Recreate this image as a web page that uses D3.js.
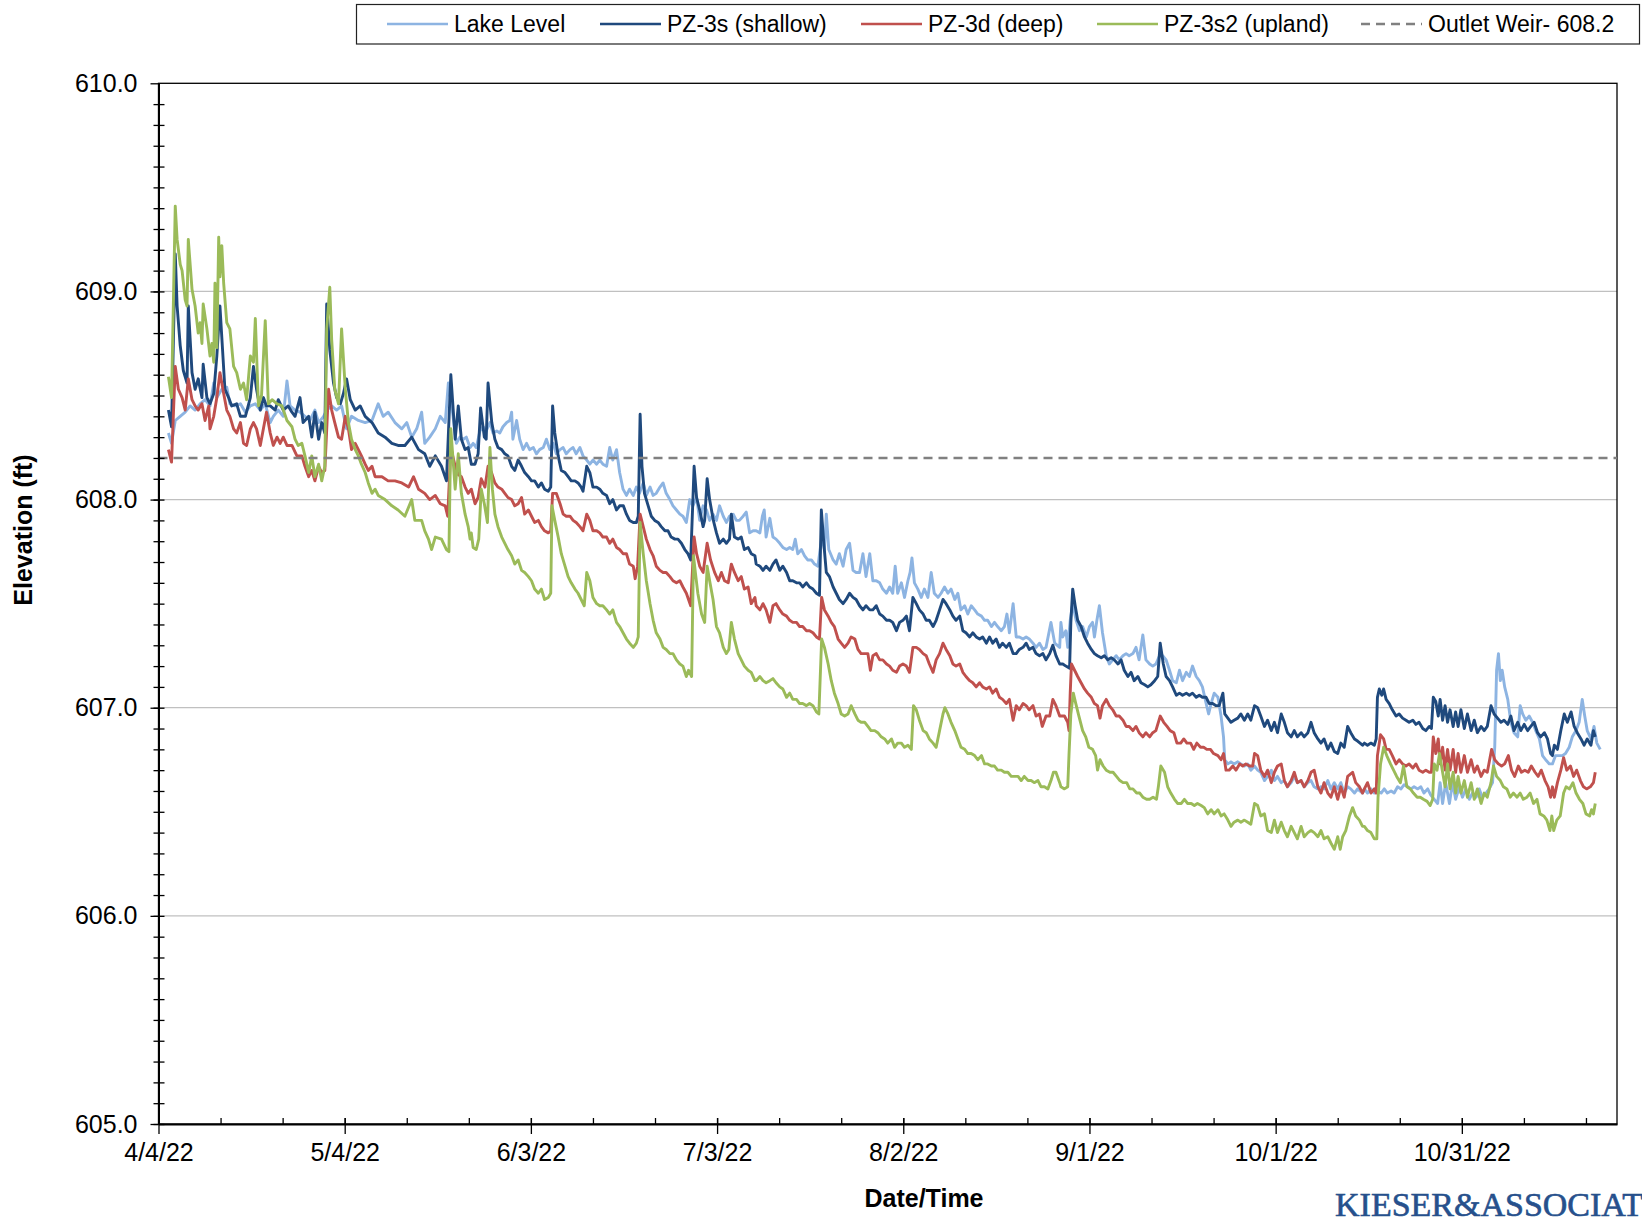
<!DOCTYPE html>
<html>
<head>
<meta charset="utf-8">
<script src="https://cdn.jsdelivr.net/npm/d3@7"></script>
<style>
  body { margin: 0; background: #fff; }
  svg text { font-family: "Liberation Sans", Arial, sans-serif; }
  svg text.logo { font-family: "Liberation Serif", "Times New Roman", serif; }
</style>
</head>
<body>
<svg id="chart" width="1642" height="1217"></svg>
<script>
// readings: [days after 4/4/22, elevation ft]
const lakeLevel = [
[1.6,608.32],[2.1,608.27],[2.7,608.38],[3.5,608.40],[4.3,608.42],[5.1,608.45],[5.9,608.43],[6.7,608.46],[7.5,608.48],[8.3,608.45],
[8.9,608.56],[9.4,608.49],[10.2,608.53],[11.0,608.54],[11.5,608.46],[12.3,608.45],[13.2,608.46],[14.0,608.42],[14.8,608.45],[15.6,608.46],
[16.4,608.43],[17.2,608.46],[18.0,608.37],[18.5,608.40],[19.3,608.43],[20.1,608.40],[20.7,608.57],[21.2,608.45],[22.0,608.43],[22.8,608.42],
[23.6,608.40],[24.4,608.38],[25.2,608.43],[25.8,608.37],[26.6,608.40],[27.1,608.43],[27.9,608.45],[28.7,608.43],[29.5,608.45],[30.3,608.34],
[31.1,608.40],[32.2,608.38],[33.3,608.37],[34.4,608.38],[35.4,608.46],[36.2,608.40],[37.0,608.42],[38.1,608.37],[39.2,608.34],[40.0,608.37],
[40.8,608.30],[41.6,608.34],[42.4,608.42],[42.9,608.27],[43.7,608.30],[44.6,608.34],[45.4,608.40],[46.2,608.37],[46.7,608.56],[47.2,608.46],
[48.0,608.27],[48.55,608.30],[49.1,608.29],[49.6,608.30],[50.2,608.25],[50.7,608.27],[51.2,608.25],[51.8,608.33],[52.3,608.35],[52.8,608.33],
[53.4,608.37],[53.9,608.32],[54.5,608.33],[55.0,608.32],[55.5,608.35],[56.1,608.37],[56.6,608.38],[56.9,608.42],[57.1,608.29],[57.7,608.38],
[58.2,608.29],[58.75,608.24],[59.3,608.27],[59.8,608.24],[60.4,608.25],[60.9,608.22],[61.4,608.24],[62.0,608.25],[62.5,608.29],[63.05,608.24],
[63.6,608.27],[64.1,608.22],[64.7,608.24],[65.2,608.25],[65.7,608.22],[66.3,608.24],[66.8,608.25],[67.3,608.22],[67.9,608.25],[68.4,608.21],
[69.0,608.19],[69.5,608.17],[70.0,608.19],[70.6,608.17],[71.1,608.19],[71.6,608.17],[72.2,608.16],[72.7,608.25],[73.2,608.19],[73.8,608.24],
[74.3,608.13],[74.85,608.05],[75.4,608.02],[75.9,608.05],[76.5,608.02],[77.0,608.06],[77.5,608.03],[78.1,608.08],[78.6,608.02],[79.2,608.06],
[79.7,608.02],[80.2,608.03],[80.8,608.06],[81.3,608.08],[81.8,608.03],[82.4,608.00],[82.9,607.97],[83.45,607.95],[84.0,607.93],[84.5,607.92],
[85.05,607.89],[85.6,608.00],[86.1,607.97],[86.7,608.01],[87.2,607.90],[87.75,607.97],[88.3,607.95],[88.8,607.90],[89.35,607.93],[89.9,607.90],
[90.4,607.97],[91.0,607.92],[91.5,607.89],[92.0,607.92],[92.6,607.93],[93.1,607.90],[93.6,607.90],[94.2,607.92],[94.7,607.94],[95.25,607.84],
[95.8,607.85],[96.3,607.85],[96.9,607.84],[97.3,607.92],[97.6,607.95],[97.9,607.82],[98.5,607.91],[99.0,607.82],[99.5,607.81],[100.1,607.79],
[100.6,607.77],[101.2,607.76],[101.7,607.77],[102.2,607.76],[102.6,607.81],[103.0,607.74],[103.6,607.76],[104.1,607.73],[104.6,607.71],[105.2,607.71],
[105.7,607.69],[106.25,607.68],[106.6,607.76],[106.9,607.82],[107.3,607.76],[107.6,607.93],[108.0,607.76],[108.7,607.71],[109.2,607.69],[109.7,607.74],
[110.3,607.68],[110.8,607.76],[111.35,607.79],[111.9,607.66],[112.4,607.65],[112.96,607.65],[113.5,607.74],[114.0,607.63],[114.6,607.74],[115.1,607.61],
[115.65,607.61],[116.2,607.60],[116.7,607.57],[117.3,607.55],[117.8,607.58],[118.3,607.55],[118.7,607.68],[119.1,607.55],[119.7,607.60],[120.2,607.53],
[120.75,607.61],[121.1,607.65],[121.4,607.72],[121.8,607.60],[122.35,607.57],[122.9,607.53],[123.4,607.57],[123.97,607.53],[124.5,607.65],[125.0,607.55],
[125.6,607.53],[126.1,607.55],[126.65,607.58],[127.2,607.55],[127.7,607.57],[128.3,607.52],[128.8,607.55],[129.3,607.47],[129.9,607.49],[130.4,607.45],
[130.95,607.49],[131.5,607.47],[132.0,607.45],[132.6,607.44],[133.1,607.42],[133.6,607.42],[134.2,607.39],[134.7,607.41],[135.2,607.39],[135.8,607.37],
[136.3,607.39],[136.7,607.45],[137.1,607.36],[137.7,607.50],[138.2,607.34],[138.7,607.34],[139.3,607.33],[139.8,607.34],[140.3,607.33],[140.9,607.31],
[141.4,607.29],[141.95,607.31],[142.5,607.28],[143.0,607.29],[143.8,607.41],[144.4,607.31],[145.2,607.29],[145.4,607.41],[145.7,607.34],[146.2,607.37],
[146.5,607.29],[146.9,607.42],[147.3,607.50],[147.85,607.42],[148.4,607.37],[148.9,607.39],[149.5,607.34],[150.0,607.39],[150.5,607.41],[150.8,607.34],
[151.2,607.42],[151.6,607.49],[152.1,607.36],[152.7,607.25],[153.2,607.21],[153.75,607.23],[154.3,607.25],[154.8,607.23],[155.4,607.25],[155.9,607.26],
[156.4,607.25],[157.0,607.26],[157.5,607.29],[158.0,607.23],[158.6,607.35],[159.1,607.23],[159.7,607.21],[160.2,607.20],[160.7,607.21],[161.3,607.25],
[161.8,607.25],[162.35,607.23],[162.9,607.18],[163.4,607.13],[164.0,607.12],[164.5,607.18],[165.0,607.13],[165.6,607.17],[166.1,607.15],[166.6,607.20],
[167.2,607.15],[167.7,607.13],[168.2,607.10],[168.8,607.02],[169.2,606.97],[169.6,607.02],[170.1,607.07],[170.7,607.05],[171.2,606.96],[171.6,606.86],
[171.8,606.75],[172.3,606.73],[172.8,606.74],[173.3,606.73],[173.9,606.74],[174.4,606.73],[174.96,606.72],[175.5,606.73],[176.0,606.70],[176.6,606.72],
[177.1,606.70],[177.6,606.69],[178.2,606.65],[178.7,606.67],[179.3,606.70],[179.8,606.65],[180.3,606.67],[180.9,606.64],[181.4,606.65],[181.9,606.62],
[182.5,606.64],[183.0,606.67],[183.5,606.64],[184.1,606.65],[184.6,606.62],[185.2,606.64],[185.7,606.65],[186.2,606.62],[186.8,606.61],[187.3,606.62],
[187.8,606.61],[188.4,606.65],[188.9,606.61],[189.45,606.64],[190.0,606.61],[190.5,606.64],[191.05,606.59],[191.6,606.62],[192.1,606.61],[192.7,606.59],
[193.2,606.61],[194.0,606.59],[194.3,606.61],[194.8,606.59],[195.35,606.61],[195.9,606.59],[196.4,606.60],[197.0,606.59],[197.5,606.61],[198.0,606.59],
[198.6,606.60],[199.1,606.59],[199.65,606.62],[200.2,606.61],[200.7,606.63],[201.3,606.62],[201.8,606.61],[202.3,606.62],[202.9,606.61],[203.4,606.62],
[203.9,606.59],[204.5,606.61],[205.0,606.58],[205.55,606.56],[206.1,606.54],[206.5,606.64],[206.9,606.54],[207.4,606.64],[208.0,606.54],[208.5,606.64],
[209.0,606.56],[209.6,606.62],[210.1,606.57],[210.65,606.61],[211.2,606.56],[211.7,606.59],[212.3,606.57],[212.8,606.61],[213.3,606.57],[213.9,606.59],
[214.4,606.61],[214.95,606.64],[215.3,606.81],[215.6,607.18],[215.9,607.26],[216.2,607.13],[216.5,607.18],[216.9,607.10],[217.4,607.04],[217.9,606.93],
[218.4,606.88],[219.0,606.86],[219.4,607.01],[219.8,606.97],[220.3,606.94],[220.85,606.96],[221.4,606.93],[221.9,606.89],[222.5,606.85],[223.0,606.77],
[223.5,606.75],[224.1,606.73],[224.6,606.73],[225.1,606.77],[225.7,606.77],[226.2,606.77],[226.7,606.78],[227.3,606.81],[227.8,606.86],[228.4,606.89],
[228.9,606.93],[229.4,607.04],[229.8,606.96],[230.2,606.89],[230.8,606.85],[231.3,606.91],[231.75,606.83],[232.3,606.80]
];

const pz3Shallow = [
[1.6,608.43],[2.1,608.35],[2.7,609.18],[3.0,608.93],[3.5,608.74],[4.0,608.62],[4.6,608.56],[4.8,608.93],[5.4,608.61],[5.9,608.53],
[6.4,608.58],[7.0,608.49],[7.2,608.65],[7.8,608.49],[8.3,608.46],[8.9,608.51],[9.4,608.69],[9.9,608.93],[10.2,608.78],[10.7,608.53],
[11.3,608.49],[11.8,608.45],[12.6,608.46],[13.2,608.40],[14.0,608.40],[14.8,608.49],[15.3,608.64],[15.8,608.53],[16.4,608.43],[16.9,608.49],
[17.4,608.45],[18.0,608.45],[18.8,608.43],[19.3,608.48],[20.1,608.43],[20.9,608.45],[21.5,608.42],[22.0,608.40],[22.8,608.49],[23.3,608.37],
[24.2,608.40],[24.7,608.30],[25.2,608.42],[25.8,608.29],[26.3,608.37],[26.8,608.32],[27.1,608.94],[27.6,608.72],[28.2,608.56],[28.7,608.49],
[29.3,608.46],[29.8,608.51],[30.3,608.58],[30.9,608.48],[31.7,608.43],[32.5,608.45],[33.3,608.40],[34.4,608.37],[35.4,608.32],[36.5,608.30],
[37.6,608.27],[38.6,608.26],[39.7,608.26],[40.8,608.30],[41.9,608.24],[42.9,608.22],[43.7,608.16],[44.6,608.21],[45.6,608.16],[46.4,608.09],
[47.1,608.60],[47.8,608.29],[48.3,608.45],[48.8,608.29],[49.4,608.24],[49.9,608.25],[50.4,608.17],[51.0,608.17],[51.5,608.22],[51.9,608.44],
[52.5,608.30],[52.8,608.29],[53.1,608.56],[53.7,608.37],[54.2,608.29],[54.7,608.25],[55.3,608.24],[55.8,608.22],[56.3,608.21],[56.9,608.16],
[57.4,608.14],[57.95,608.19],[58.5,608.16],[59.0,608.13],[59.6,608.11],[60.1,608.09],[60.6,608.09],[61.2,608.06],[61.7,608.08],[62.2,608.05],
[62.8,608.04],[63.2,608.06],[63.5,608.45],[63.85,608.32],[64.4,608.21],[64.9,608.14],[65.5,608.13],[66.0,608.11],[66.5,608.09],[67.1,608.09],
[67.6,608.08],[68.1,608.06],[68.4,608.04],[69.0,608.16],[69.5,608.13],[70.0,608.06],[70.6,608.06],[71.1,608.05],[71.6,608.03],[72.2,608.02],
[72.7,607.98],[73.2,608.00],[73.8,607.95],[74.3,607.97],[74.9,607.97],[75.4,607.93],[75.9,607.90],[76.5,607.89],[77.0,607.89],[77.3,607.92],
[77.6,608.41],[77.9,608.16],[78.3,608.03],[78.9,607.97],[79.4,607.92],[79.95,607.90],[80.5,607.89],[81.0,607.87],[81.6,607.85],[82.1,607.85],
[82.6,607.82],[83.2,607.81],[83.7,607.81],[84.25,607.79],[84.8,607.76],[85.3,607.74],[85.75,607.71],[86.3,608.16],[86.7,608.01],[87.2,607.95],
[87.75,607.87],[88.0,607.90],[88.4,608.10],[88.8,608.00],[89.4,607.90],[89.9,607.84],[90.4,607.79],[91.0,607.81],[91.5,607.79],[92.0,607.81],
[92.3,607.93],[92.8,607.82],[93.4,607.81],[93.9,607.82],[94.4,607.76],[95.0,607.77],[95.5,607.74],[96.1,607.73],[96.3,607.69],[96.9,607.68],
[97.4,607.66],[97.9,607.68],[98.5,607.66],[99.0,607.69],[99.5,607.71],[100.1,607.66],[100.6,607.68],[101.2,607.65],[101.7,607.61],[102.2,607.61],
[102.8,607.60],[103.3,607.60],[103.8,607.58],[104.4,607.60],[104.9,607.58],[105.45,607.57],[106.0,607.55],[106.5,607.54],[106.8,607.95],[107.2,607.79],
[107.6,607.65],[108.1,607.63],[108.7,607.58],[109.2,607.55],[109.7,607.52],[110.3,607.50],[110.8,607.52],[111.35,607.55],[111.9,607.53],[112.4,607.52],
[112.96,607.49],[113.5,607.47],[114.0,607.49],[114.6,607.47],[115.1,607.47],[115.65,607.49],[116.2,607.45],[116.7,607.44],[117.3,607.42],[117.8,607.42],
[118.3,607.41],[118.9,607.37],[119.4,607.41],[119.95,607.42],[120.5,607.44],[121.0,607.37],[121.55,607.53],[122.1,607.50],[122.6,607.47],[123.2,607.45],
[123.7,607.42],[124.2,607.42],[124.8,607.39],[125.3,607.42],[125.85,607.47],[126.4,607.52],[126.9,607.50],[127.5,607.47],[128.0,607.44],[128.5,607.42],
[129.1,607.44],[129.6,607.37],[130.1,607.36],[130.7,607.34],[131.2,607.36],[131.75,607.34],[132.3,607.33],[132.8,607.34],[133.4,607.31],[133.9,607.34],
[134.4,607.31],[134.97,607.33],[135.5,607.29],[136.0,607.31],[136.6,607.29],[137.1,607.31],[137.7,607.26],[138.2,607.26],[138.7,607.28],[139.3,607.29],
[139.8,607.31],[140.3,607.28],[140.9,607.29],[141.4,607.26],[141.95,607.25],[142.5,607.26],[143.0,607.23],[143.6,607.26],[144.1,607.30],[144.6,607.25],
[145.2,607.21],[145.7,607.21],[146.2,607.20],[146.8,607.19],[147.0,607.41],[147.3,607.57],[147.7,607.49],[148.1,607.42],[148.65,607.39],[149.2,607.34],
[149.7,607.31],[150.3,607.28],[150.8,607.26],[151.3,607.25],[151.9,607.24],[152.4,607.25],[152.95,607.23],[153.5,607.24],[154.0,607.23],[154.6,607.21],
[155.1,607.23],[155.6,607.18],[156.2,607.15],[156.7,607.17],[157.2,607.13],[157.8,607.15],[158.3,607.12],[158.9,607.11],[159.4,607.10],[159.9,607.11],
[160.5,607.13],[161.0,607.15],[161.4,607.31],[161.9,607.21],[162.35,607.15],[162.9,607.13],[163.4,607.10],[164.0,607.06],[164.5,607.07],[165.0,607.06],
[165.6,607.07],[166.1,607.06],[166.6,607.07],[167.2,607.05],[167.7,607.06],[168.2,607.05],[168.8,607.05],[169.3,607.02],[169.85,607.02],[170.4,607.01],
[170.9,607.01],[171.5,607.07],[171.8,606.97],[172.3,606.95],[172.8,606.93],[173.3,606.94],[173.9,606.95],[174.4,606.97],[174.96,606.94],[175.5,606.97],
[176.0,606.94],[176.6,607.01],[177.1,607.00],[177.6,606.96],[178.2,606.91],[178.7,606.94],[179.3,606.89],[179.8,606.93],[180.3,606.88],[180.9,606.97],
[181.4,606.93],[181.9,606.88],[182.5,606.86],[183.0,606.89],[183.5,606.86],[184.1,606.88],[184.6,606.86],[185.2,606.88],[185.7,606.93],[186.2,606.88],
[186.8,606.85],[187.3,606.83],[187.8,606.85],[188.4,606.80],[188.9,606.83],[189.45,606.79],[190.0,606.78],[190.5,606.83],[191.05,606.81],[191.6,606.91],
[192.1,606.88],[192.7,606.85],[193.2,606.84],[194.0,606.82],[194.3,606.83],[194.8,606.82],[195.35,606.83],[195.9,606.82],[196.2,606.85],[196.4,607.05],
[196.7,607.09],[197.1,607.06],[197.4,607.09],[197.8,607.04],[198.3,607.02],[198.8,606.99],[199.4,606.96],[199.9,606.97],[200.45,606.95],[201.0,606.94],
[201.5,606.93],[202.1,606.94],[202.6,606.92],[203.1,606.93],[203.7,606.90],[204.2,606.89],[204.75,606.91],[205.1,606.90],[205.4,607.05],[205.8,607.03],
[206.2,606.96],[206.5,607.04],[206.9,606.94],[207.3,607.01],[207.7,606.93],[208.1,606.99],[208.6,606.91],[209.0,606.98],[209.4,606.91],[209.85,606.99],
[210.4,606.90],[210.9,606.97],[211.5,606.89],[212.0,606.94],[212.5,606.88],[213.1,606.91],[213.6,606.89],[214.1,606.91],[214.7,607.01],[215.2,606.97],
[215.75,606.95],[216.3,606.93],[216.8,606.94],[217.4,606.92],[217.9,606.96],[218.4,606.89],[219.0,606.93],[219.5,606.89],[220.05,606.92],[220.6,606.89],
[221.1,606.91],[221.65,606.93],[222.2,606.88],[222.7,606.86],[223.3,606.88],[223.8,606.85],[224.3,606.78],[224.6,606.77],[224.9,606.82],[225.4,606.80],
[225.95,606.89],[226.5,606.97],[227.0,606.93],[227.6,606.98],[228.1,606.91],[228.6,606.88],[229.2,606.85],[229.7,606.82],[230.2,606.85],[230.8,606.82],
[231.2,606.89],[231.5,606.86]
];

const pz3Deep = [
[1.6,608.24],[2.1,608.18],[2.7,608.64],[3.2,608.53],[3.8,608.49],[4.3,608.43],[4.8,608.58],[5.4,608.48],[5.9,608.45],[6.4,608.43],
[7.0,608.46],[7.5,608.38],[8.1,608.45],[8.3,608.34],[8.9,608.40],[9.4,608.49],[9.9,608.61],[10.5,608.51],[11.0,608.43],[11.5,608.40],
[12.1,608.34],[12.6,608.32],[13.2,608.37],[13.7,608.27],[14.2,608.26],[14.8,608.34],[15.3,608.37],[15.8,608.34],[16.4,608.26],[16.9,608.34],
[17.4,608.42],[18.0,608.32],[18.5,608.26],[19.1,608.30],[19.6,608.27],[20.1,608.30],[20.7,608.26],[21.5,608.26],[22.3,608.21],[23.1,608.21],
[23.6,608.16],[24.2,608.11],[24.7,608.14],[25.2,608.09],[25.8,608.16],[26.3,608.13],[26.8,608.14],[27.4,608.53],[27.9,608.43],[28.4,608.37],
[29.0,608.30],[29.5,608.29],[30.1,608.40],[30.6,608.34],[31.1,608.24],[31.7,608.27],[32.2,608.24],[32.7,608.21],[33.3,608.17],[33.8,608.14],
[34.4,608.16],[34.9,608.11],[36.0,608.11],[37.0,608.09],[38.1,608.09],[39.2,608.08],[40.3,608.06],[41.1,608.11],[41.9,608.05],[42.9,608.03],
[43.7,608.00],[44.6,608.02],[45.4,607.98],[46.2,607.97],[46.6,607.92],[47.1,608.25],[47.8,608.16],[48.3,608.12],[48.8,608.11],[49.4,608.06],
[49.9,608.03],[50.4,608.05],[51.0,607.98],[51.5,608.01],[52.0,608.10],[52.6,608.06],[53.1,608.16],[53.65,608.13],[54.2,608.08],[54.7,608.06],
[55.3,608.05],[55.8,608.03],[56.3,608.01],[56.9,608.00],[57.4,607.97],[57.95,607.98],[58.5,608.01],[59.0,607.93],[59.6,607.95],[60.1,607.92],
[60.6,607.89],[61.2,607.90],[61.7,607.87],[62.2,607.85],[62.8,607.84],[63.2,607.85],[63.5,608.03],[64.1,608.03],[64.7,607.98],[65.2,607.93],
[65.7,607.92],[66.3,607.92],[66.8,607.90],[67.3,607.89],[67.9,607.87],[68.4,607.85],[69.0,607.93],[69.5,607.90],[70.0,607.85],[70.6,607.85],
[71.1,607.84],[71.6,607.82],[72.2,607.82],[72.7,607.79],[73.2,607.81],[73.8,607.77],[74.3,607.76],[74.85,607.74],[75.4,607.74],[75.9,607.69],
[76.5,607.68],[76.8,607.62],[77.2,607.68],[77.6,607.93],[78.1,607.87],[78.6,607.81],[79.2,607.76],[79.7,607.73],[80.2,607.68],[80.8,607.66],
[81.3,607.65],[81.8,607.65],[82.4,607.63],[82.9,607.61],[83.45,607.60],[84.0,607.61],[84.5,607.58],[85.05,607.55],[85.75,607.49],[86.3,607.82],
[86.7,607.74],[87.2,607.68],[87.75,607.65],[88.4,607.79],[88.95,607.71],[89.6,607.65],[90.2,607.61],[90.7,607.65],[91.2,607.61],[91.8,607.60],
[92.3,607.69],[92.8,607.65],[93.4,607.61],[93.9,607.63],[94.4,607.57],[95.0,607.58],[95.5,607.50],[96.1,607.53],[96.3,607.49],[96.9,607.47],
[97.4,607.50],[97.9,607.47],[98.5,607.41],[99.0,607.49],[99.5,607.50],[100.1,607.47],[100.6,607.45],[101.2,607.44],[101.7,607.42],[102.2,607.41],
[102.8,607.41],[103.3,607.39],[103.8,607.39],[104.4,607.37],[104.9,607.37],[105.45,607.36],[106.0,607.34],[106.5,607.33],[106.85,607.53],[107.3,607.47],
[107.9,607.44],[108.4,607.41],[108.9,607.39],[109.5,607.33],[110.0,607.31],[110.55,607.29],[111.1,607.31],[111.6,607.34],[112.2,607.33],[112.7,607.28],
[113.2,607.26],[113.8,607.26],[114.3,607.26],[114.7,607.18],[115.1,607.25],[115.65,607.26],[116.2,607.23],[116.7,607.23],[117.3,607.21],[117.8,607.20],
[118.3,607.18],[118.9,607.17],[119.4,607.20],[119.95,607.21],[120.5,607.20],[121.0,607.17],[121.55,607.29],[122.1,607.29],[122.6,607.28],[123.2,607.26],
[123.7,607.25],[124.2,607.21],[124.8,607.17],[125.3,607.23],[125.85,607.26],[126.4,607.31],[126.9,607.28],[127.5,607.25],[128.0,607.21],[128.5,607.20],
[129.1,607.21],[129.6,607.17],[130.1,607.15],[130.7,607.13],[131.2,607.12],[131.75,607.10],[132.3,607.12],[132.8,607.10],[133.4,607.09],[133.9,607.10],
[134.4,607.07],[134.97,607.09],[135.5,607.05],[136.0,607.04],[136.6,607.02],[137.1,607.04],[137.7,606.94],[138.2,607.01],[138.7,606.99],[139.3,607.02],
[139.8,607.01],[140.3,606.99],[140.9,607.01],[141.4,606.96],[141.95,606.97],[142.4,606.91],[143.0,606.96],[143.6,606.96],[144.1,607.04],[144.6,607.01],
[145.2,606.96],[145.4,606.96],[145.97,606.96],[146.5,606.93],[146.7,606.89],[146.9,607.07],[147.1,607.21],[147.6,607.18],[148.1,607.15],[148.65,607.12],
[149.2,607.09],[149.7,607.07],[150.3,607.05],[150.8,607.02],[151.3,607.01],[151.7,606.95],[152.1,607.01],[152.7,607.04],[153.2,607.01],[153.75,606.99],
[154.3,606.96],[154.8,606.96],[155.4,606.94],[155.9,606.91],[156.4,606.91],[157.0,606.89],[157.5,606.91],[158.0,606.88],[158.6,606.86],[159.1,606.88],
[159.7,606.86],[160.2,606.88],[160.7,606.89],[161.4,606.96],[161.96,606.93],[162.5,606.91],[163.0,606.89],[163.6,606.88],[164.1,606.83],[164.7,606.83],
[165.2,606.85],[165.7,606.83],[166.3,606.83],[166.8,606.80],[167.3,606.83],[167.9,606.81],[168.4,606.81],[168.9,606.80],[169.5,606.80],[170.0,606.78],
[170.7,606.77],[171.2,606.75],[171.6,606.78],[172.0,606.70],[172.5,606.70],[173.1,606.72],[173.6,606.70],[174.2,606.73],[174.7,606.72],[175.2,606.73],
[175.8,606.72],[176.3,606.72],[176.6,606.78],[177.1,606.77],[177.6,606.70],[178.2,606.67],[178.7,606.70],[179.3,606.64],[179.8,606.69],[180.3,606.72],
[180.9,606.73],[181.4,606.65],[181.9,606.62],[182.5,606.65],[183.0,606.69],[183.5,606.64],[184.1,606.65],[184.6,606.62],[185.2,606.65],[185.7,606.69],
[186.2,606.70],[186.8,606.62],[187.3,606.59],[187.8,606.64],[188.4,606.59],[188.9,606.57],[189.45,606.62],[190.0,606.56],[190.5,606.62],[191.05,606.57],
[191.6,606.67],[192.4,606.69],[192.9,606.64],[193.5,606.62],[194.0,606.59],[194.3,606.61],[194.8,606.64],[195.35,606.59],[195.9,606.61],[196.2,606.59],
[196.4,606.77],[196.9,606.87],[197.4,606.85],[197.8,606.80],[198.3,606.80],[198.8,606.77],[199.4,606.73],[199.9,606.75],[200.45,606.73],[201.0,606.72],
[201.5,606.73],[202.1,606.71],[202.6,606.73],[203.1,606.70],[203.7,606.69],[204.2,606.70],[204.75,606.69],[205.1,606.69],[205.4,606.86],[205.8,606.78],
[206.2,606.85],[206.5,606.73],[206.9,606.81],[207.3,606.70],[207.7,606.80],[208.1,606.70],[208.6,606.80],[209.0,606.69],[209.4,606.78],[209.85,606.69],
[210.4,606.77],[210.9,606.69],[211.5,606.75],[212.0,606.69],[212.5,606.72],[213.1,606.67],[213.6,606.70],[214.1,606.69],[214.8,606.80],[215.3,606.75],
[215.9,606.73],[216.4,606.72],[216.9,606.73],[217.5,606.77],[218.0,606.70],[218.5,606.67],[219.1,606.72],[219.6,606.69],[220.15,606.70],[220.7,606.69],
[221.2,606.72],[221.8,606.69],[222.3,606.67],[222.8,606.70],[223.4,606.65],[223.9,606.62],[224.3,606.57],[224.6,606.62],[224.9,606.57],[225.4,606.64],
[225.95,606.70],[226.4,606.76],[226.9,606.70],[227.5,606.72],[228.0,606.67],[228.5,606.70],[229.1,606.65],[229.6,606.62],[230.1,606.61],[230.7,606.62],
[231.2,606.64],[231.5,606.69]
];

const pz3Upland = [
[1.6,608.59],[2.1,608.49],[2.7,609.41],[3.0,609.25],[3.5,609.13],[3.8,609.10],[4.3,608.96],[4.6,608.93],[4.8,609.25],[5.4,609.01],
[5.9,608.93],[6.4,608.80],[6.7,608.85],[7.0,608.75],[7.2,608.94],[7.8,608.82],[8.3,608.69],[8.6,608.75],[8.9,608.66],[9.1,609.04],
[9.4,608.73],[9.7,609.26],[9.9,609.07],[10.2,609.22],[10.5,609.04],[11.0,608.85],[11.5,608.82],[12.1,608.64],[12.6,608.61],[13.2,608.53],
[13.7,608.56],[14.2,608.48],[14.8,608.69],[15.3,608.66],[15.6,608.87],[16.1,608.45],[16.6,608.50],[17.2,608.86],[17.7,608.46],[18.3,608.48],
[19.1,608.46],[19.9,608.45],[20.7,608.38],[21.5,608.35],[22.0,608.29],[22.5,608.26],[23.1,608.27],[23.6,608.21],[24.2,608.13],[24.7,608.21],
[25.2,608.11],[25.8,608.17],[26.3,608.09],[26.8,608.16],[27.1,608.82],[27.6,609.02],[27.9,608.77],[28.4,608.53],[29.0,608.46],[29.5,608.82],
[30.1,608.53],[30.6,608.37],[31.1,608.29],[31.7,608.24],[32.2,608.21],[32.7,608.17],[33.3,608.13],[33.8,608.08],[34.4,608.03],[34.9,608.05],
[35.4,608.02],[36.5,608.00],[37.6,607.97],[38.6,607.95],[39.7,607.92],[40.8,608.00],[41.3,607.90],[42.4,607.90],[42.9,607.85],[43.5,607.81],
[44.0,607.76],[44.6,607.82],[45.6,607.81],[46.4,607.76],[46.8,607.75],[47.1,608.34],[47.8,608.05],[48.3,608.22],[48.8,608.03],[49.4,607.93],
[49.9,607.87],[50.2,607.81],[50.4,607.84],[50.7,607.77],[51.2,607.76],[51.6,607.81],[52.0,608.05],[52.5,607.98],[53.0,607.89],[53.4,608.25],
[53.8,608.05],[54.2,607.93],[54.7,607.87],[55.3,607.82],[55.8,607.79],[56.3,607.76],[56.9,607.73],[57.4,607.69],[57.95,607.71],[58.5,607.66],
[59.0,607.65],[59.6,607.63],[60.1,607.61],[60.6,607.57],[61.2,607.55],[61.7,607.57],[62.2,607.52],[62.8,607.53],[63.2,607.55],[63.4,607.97],
[63.85,607.90],[64.4,607.82],[64.9,607.74],[65.5,607.68],[66.0,607.63],[66.5,607.60],[67.1,607.57],[67.6,607.55],[68.1,607.52],[68.6,607.49],
[69.0,607.65],[69.5,607.61],[70.0,607.53],[70.6,607.50],[71.1,607.49],[71.6,607.49],[72.2,607.47],[72.7,607.45],[73.2,607.47],[73.8,607.41],
[74.3,607.39],[74.85,607.36],[75.4,607.33],[75.9,607.31],[76.5,607.29],[77.0,607.31],[77.3,607.34],[77.6,607.89],[78.1,607.74],[78.6,607.61],
[79.2,607.50],[79.7,607.42],[80.2,607.36],[80.8,607.33],[81.3,607.29],[81.8,607.28],[82.4,607.26],[82.9,607.26],[83.45,607.23],[84.0,607.21],
[84.5,607.20],[85.05,607.15],[85.4,607.18],[85.9,607.15],[86.2,607.73],[86.5,607.65],[86.9,607.55],[87.5,607.45],[88.0,607.41],[88.4,607.68],
[88.8,607.61],[89.35,607.52],[89.9,607.39],[90.4,607.36],[91.0,607.29],[91.5,607.26],[91.9,607.28],[92.3,607.41],[92.8,607.33],[93.4,607.26],
[93.9,607.23],[94.4,607.20],[95.0,607.18],[95.5,607.17],[96.1,607.13],[96.3,607.13],[96.9,607.15],[97.4,607.13],[97.9,607.12],[98.5,607.13],
[99.0,607.14],[99.5,607.12],[100.1,607.10],[100.6,607.09],[101.2,607.05],[101.7,607.07],[102.2,607.04],[102.8,607.04],[103.3,607.02],[103.8,607.02],
[104.4,607.01],[104.9,607.02],[105.45,607.01],[106.0,606.98],[106.4,606.97],[106.85,607.33],[107.3,607.29],[107.9,607.21],[108.4,607.13],[108.9,607.07],
[109.5,607.02],[110.0,606.97],[110.55,606.96],[111.1,606.97],[111.6,607.01],[112.2,606.97],[112.7,606.94],[113.2,606.93],[113.8,606.93],[114.3,606.91],
[114.8,606.89],[115.4,606.89],[115.9,606.88],[116.45,606.86],[117.0,606.85],[117.5,606.83],[118.1,606.85],[118.6,606.81],[119.1,606.83],[119.7,606.83],
[120.2,606.81],[120.75,606.82],[121.3,606.80],[121.65,607.01],[122.1,606.99],[122.6,606.94],[123.2,606.89],[123.7,606.88],[124.2,606.85],[124.8,606.83],
[125.3,606.81],[125.85,606.89],[126.4,606.97],[126.7,607.00],[127.2,606.97],[127.7,606.93],[128.3,606.89],[128.8,606.85],[129.3,606.81],[129.9,606.80],
[130.4,606.78],[130.95,606.78],[131.5,606.77],[132.0,606.75],[132.6,606.77],[133.1,606.73],[133.6,606.73],[134.2,606.72],[134.7,606.72],[135.2,606.70],
[135.8,606.70],[136.3,606.69],[136.85,606.69],[137.4,606.67],[137.9,606.67],[138.5,606.67],[139.0,606.65],[139.5,606.67],[140.1,606.65],[140.6,606.65],
[141.1,606.64],[141.7,606.65],[142.2,606.62],[142.75,606.62],[143.3,606.61],[143.8,606.65],[144.2,606.69],[144.6,606.69],[145.2,606.64],[145.4,606.62],
[145.97,606.61],[146.5,606.62],[146.7,606.77],[147.0,606.97],[147.4,607.07],[147.8,607.02],[148.3,606.96],[148.9,606.89],[149.4,606.86],[149.9,606.81],
[150.5,606.80],[151.0,606.77],[151.3,606.70],[151.7,606.75],[152.2,606.72],[152.7,606.70],[153.3,606.69],[153.8,606.69],[154.35,606.67],[154.9,606.65],
[155.4,606.64],[156.0,606.64],[156.5,606.61],[157.0,606.61],[157.6,606.59],[158.1,606.59],[158.6,606.57],[159.2,606.56],[159.7,606.56],[160.25,606.57],
[160.8,606.56],[161.1,606.62],[161.5,606.72],[162.1,606.69],[162.6,606.62],[163.1,606.59],[163.7,606.56],[164.2,606.54],[164.8,606.54],[165.3,606.56],
[165.8,606.54],[166.4,606.54],[166.9,606.53],[167.4,606.54],[168.0,606.53],[168.5,606.52],[169.05,606.49],[169.6,606.51],[170.1,606.49],[170.7,606.51],
[171.2,606.48],[171.7,606.49],[172.3,606.46],[172.8,606.43],[173.3,606.45],[173.9,606.46],[174.4,606.45],[174.96,606.46],[175.5,606.45],[176.0,606.44],
[176.6,606.54],[177.1,606.53],[177.6,606.48],[178.2,606.49],[178.7,606.41],[179.3,606.40],[179.8,606.46],[180.3,606.40],[180.9,606.45],[181.4,606.41],
[181.9,606.38],[182.5,606.43],[183.0,606.40],[183.5,606.37],[184.1,606.43],[184.6,606.38],[185.2,606.40],[185.7,606.41],[186.2,606.40],[186.8,606.38],
[187.3,606.41],[187.8,606.37],[188.4,606.38],[188.9,606.35],[189.45,606.32],[190.0,606.38],[190.4,606.32],[190.8,606.38],[191.3,606.41],[191.9,606.48],
[192.4,606.52],[192.9,606.48],[193.5,606.46],[194.0,606.43],[194.3,606.43],[194.8,606.41],[195.35,606.40],[195.9,606.37],[196.3,606.37],[196.5,606.57],
[196.9,606.73],[197.4,606.81],[197.9,606.77],[198.5,606.73],[199.0,606.70],[199.5,606.67],[200.1,606.64],[200.6,606.72],[201.15,606.62],[201.7,606.61],
[202.2,606.59],[202.8,606.57],[203.3,606.57],[203.8,606.56],[204.4,606.55],[204.9,606.53],[205.3,606.56],[205.55,606.73],[206.0,606.70],[206.4,606.78],
[206.9,606.69],[207.3,606.62],[207.7,606.73],[208.1,606.61],[208.6,606.69],[209.0,606.59],[209.4,606.67],[209.85,606.59],[210.4,606.65],[210.9,606.57],
[211.5,606.64],[212.0,606.56],[212.5,606.61],[213.1,606.54],[213.6,606.59],[214.1,606.57],[214.7,606.64],[215.1,606.72],[215.6,606.67],[216.2,606.65],
[216.7,606.62],[217.25,606.61],[217.8,606.57],[218.3,606.59],[218.9,606.57],[219.4,606.59],[219.9,606.56],[220.5,606.57],[221.0,606.59],[221.55,606.54],
[222.1,606.56],[222.6,606.49],[223.2,606.48],[223.7,606.46],[224.2,606.41],[224.5,606.48],[224.8,606.41],[225.3,606.46],[225.85,606.48],[226.4,606.59],
[226.8,606.62],[227.35,606.61],[227.9,606.64],[228.4,606.59],[228.95,606.56],[229.5,606.54],[230.0,606.49],[230.6,606.48],[230.9,606.51],[231.2,606.49],
[231.5,606.54]
];

const outletWeir = 608.2;
const yTicks = [605, 606, 607, 608, 609, 610];
const xTickLabels = ['4/4/22', '5/4/22', '6/3/22', '7/3/22', '8/2/22', '9/1/22', '10/1/22', '10/31/22'];
const axisStart = '4/4/22', axisEnd = '11/25/22';

const series = [
    { name: 'Lake Level', data: lakeLevel, color: '#8db4e2' },
    { name: 'PZ-3s (shallow)', data: pz3Shallow, color: '#1f497d' },
    { name: 'PZ-3d (deep)', data: pz3Deep, color: '#c0504d' },
    { name: 'PZ-3s2 (upland)', data: pz3Upland, color: '#9bbb59' }
];

const parseDate = d3.utcParse('%m/%d/%y');
const startDay = parseDate(axisStart);
const toDate = d => new Date(startDay.getTime() + d * 864e5);

const plotL = 158.5, plotR = 1617, plotT = 83.3, plotB = 1124;
const svg = d3.select('#chart');

const x = d3.scaleUtc().domain([startDay, parseDate(axisEnd)]).range([plotL, plotR]);
const y = d3.scaleLinear().domain([605, 610]).range([plotB, plotT]);

// horizontal gridlines
svg.append('g').selectAll('line')
    .data(yTicks.slice(1, -1))
    .join('line')
    .attr('x1', plotL).attr('x2', plotR)
    .attr('y1', d => y(d)).attr('y2', d => y(d))
    .attr('stroke', '#c0c0c0')
    .attr('stroke-width', 1.3);

svg.append('rect')
    .attr('x', plotL).attr('y', plotT)
    .attr('width', plotR - plotL).attr('height', plotB - plotT)
    .attr('fill', 'none')
    .attr('stroke', '#000')
    .attr('stroke-width', 1.3);

const line = d3.line()
    .x(d => x(toDate(d[0])))
    .y(d => y(d[1]));

svg.append('g').selectAll('path')
    .data(series)
    .join('path')
    .attr('d', s => line(s.data))
    .attr('fill', 'none')
    .attr('stroke', s => s.color)
    .attr('stroke-width', 2.9)
    .attr('stroke-linejoin', 'round');

svg.append('line')
    .attr('x1', plotL).attr('x2', plotR)
    .attr('y1', y(outletWeir)).attr('y2', y(outletWeir))
    .attr('stroke', '#808080')
    .attr('stroke-width', 2.6)
    .attr('stroke-dasharray', '9,6');

// y axis: minor ticks cross the axis, major ticks outside
const minorY = d3.range(50).map(i => 605 + i / 10);
svg.append('g')
    .attr('transform', `translate(${plotL},0)`)
    .call(d3.axisLeft(y).tickValues(minorY).tickSize(5).tickFormat(''))
    .call(g => g.select('.domain').remove())
    .call(g => g.selectAll('.tick line').attr('x1', 6).attr('stroke-width', 1.3));

const yAxis = svg.append('g')
    .attr('transform', `translate(${plotL},0)`)
    .call(d3.axisLeft(y).tickValues(yTicks).tickFormat(d3.format('.1f')).tickSize(8).tickSizeOuter(0).tickPadding(13));
yAxis.select('.domain').attr('stroke-width', 2);
yAxis.selectAll('.tick line').attr('stroke-width', 1.3);
yAxis.selectAll('text').attr('font-size', 25).attr('fill', '#000');

// x axis: minor ticks inside, major ticks cross
const minorX = d3.range(0, 236, 10).map(toDate);
svg.append('g')
    .attr('transform', `translate(0,${plotB})`)
    .call(d3.axisBottom(x).tickValues(minorX).tickSize(-6).tickFormat(''))
    .call(g => g.select('.domain').remove())
    .call(g => g.selectAll('.tick line').attr('stroke-width', 1.3));

const xAxis = svg.append('g')
    .attr('transform', `translate(0,${plotB})`)
    .call(d3.axisBottom(x).tickValues(xTickLabels.map(parseDate))
        .tickFormat(d3.utcFormat('%-m/%-d/%y')).tickSize(10).tickSizeOuter(0).tickPadding(9));
xAxis.select('.domain').attr('stroke-width', 2);
xAxis.selectAll('.tick line').attr('y1', -6).attr('stroke-width', 1.3);
xAxis.selectAll('text').attr('font-size', 25).attr('fill', '#000');

// axis titles
svg.append('text')
    .attr('transform', 'translate(32,530) rotate(-90)')
    .attr('text-anchor', 'middle')
    .attr('font-size', 25)
    .attr('font-weight', 'bold')
    .text('Elevation (ft)');

svg.append('text')
    .attr('x', 924).attr('y', 1207)
    .attr('text-anchor', 'middle')
    .attr('font-size', 25)
    .attr('font-weight', 'bold')
    .text('Date/Time');

// legend
const legendItems = series.map(s => ({ name: s.name, color: s.color, dash: null }))
    .concat([{ name: 'Outlet Weir- ' + outletWeir, color: '#808080', dash: '9,6' }]);
const legendX = [387, 600, 861, 1097, 1361];

svg.append('rect')
    .attr('x', 356.5).attr('y', 4.5)
    .attr('width', 1283).attr('height', 39.5)
    .attr('fill', '#fff')
    .attr('stroke', '#222')
    .attr('stroke-width', 1.2);

const legend = svg.append('g').selectAll('g')
    .data(legendItems)
    .join('g')
    .attr('transform', (d, i) => `translate(${legendX[i]},24)`);

legend.append('line')
    .attr('x1', 0).attr('x2', 61)
    .attr('stroke', d => d.color)
    .attr('stroke-width', 2.6)
    .attr('stroke-dasharray', d => d.dash);

legend.append('text')
    .attr('x', 67).attr('y', 8)
    .attr('font-size', 23)
    .text(d => d.name);

// company logo in the corner; the page edge cuts it like in the original
svg.append('text')
    .attr('class', 'logo')
    .attr('x', 1335).attr('y', 1216)
    .attr('font-size', 34)
    .attr('fill', '#26508c')
    .attr('stroke', '#26508c')
    .attr('stroke-width', 0.6)
    .text('KIESER&ASSOCIATES');
</script>
</body>
</html>
